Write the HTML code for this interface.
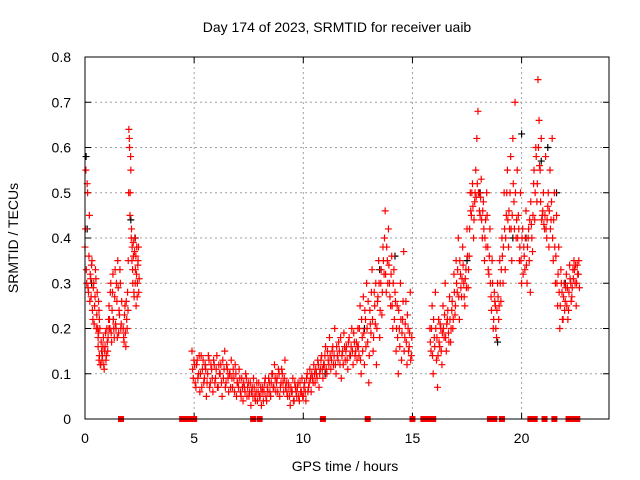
<!DOCTYPE html>
<html><head><meta charset="utf-8"><style>
html,body{margin:0;padding:0;background:#fff;}
svg{display:block;font-family:"Liberation Sans",sans-serif;}
</style></head><body>
<svg id="chart" width="640" height="480" viewBox="0 0 640 480" xmlns="http://www.w3.org/2000/svg">
<rect width="640" height="480" fill="#fff"/>
<text x="337" y="32" font-size="14" text-anchor="middle">Day 174 of 2023, SRMTID for receiver uaib</text>
<text x="18" y="238" font-size="14" text-anchor="middle" transform="rotate(-90 18 238)">SRMTID / TECUs</text>
<text x="345" y="471" font-size="14" text-anchor="middle">GPS time / hours</text>
<g id="grid"></g>
<g id="axes"></g>
<g id="black-series"></g>
<g id="red-series"></g>
<g id="gaps"></g>
<rect x="85" y="57" width="524" height="362" fill="none" stroke="#000" stroke-width="1"/>
</svg>
<script>
const xTicks=[0,5,10,15,20];
const yTicks=[0,0.1,0.2,0.3,0.4,0.5,0.6,0.7,0.8];
const yTickLabels=["0","0.1","0.2","0.3","0.4","0.5","0.6","0.7","0.8"];
// segments: start hour, step, values
const segStarts=[0,0.6,1.1,1.75,1.98,4.9,10,12.5,15.8,17];
const segSteps=[0.04,0.04,0.04,0.04,0.03,0.06,0.06,0.05,0.05,0.05];
const segVals=[
[0.38,0.55,0.3,0.5,0.28,0.45,0.32,0.27,0.35,0.22,0.3,0.25,0.33,0.2,0.28,0.18,0.24],
[0.16,0.13,0.2,0.12,0.15,0.14,0.18,0.11,0.16,0.13,0.2,0.15,0.22],
[0.25,0.2,0.3,0.17,0.28,0.22,0.18,0.33,0.2,0.26,0.35,0.19,0.23,0.3,0.21],
[0.2,0.17,0.25,0.16,0.22,0.28],
[0.35,0.64,0.6,0.5,0.55,0.42,0.38,0.3,0.36,0.27,0.4,0.33,0.25,0.38,0.3,0.35,0.28],
[0.15,0.09,0.12,0.07,0.13,0.1,0.06,0.14,0.11,0.08,0.12,0.05,0.1,0.13,0.08,0.11,0.06,0.12,0.09,0.14,0.07,0.1,0.12,0.05,0.09,0.15,0.08,0.11,0.06,0.1,0.13,0.07,0.09,0.12,0.05,0.08,0.11,0.06,0.09,0.04,0.07,0.1,0.05,0.08,0.06,0.03,0.07,0.09,0.05,0.06,0.04,0.08,0.05,0.03,0.07,0.06,0.09,0.04,0.06,0.08,0.05,0.1,0.07,0.12,0.06,0.09,0.11,0.05,0.08,0.1,0.06,0.13,0.08,0.05,0.07,0.03,0.06,0.09,0.04,0.07,0.05,0.08,0.04,0.06,0.09],
[0.05,0.08,0.04,0.1,0.07,0.11,0.06,0.09,0.12,0.08,0.1,0.13,0.07,0.11,0.14,0.09,0.12,0.16,0.1,0.13,0.18,0.11,0.15,0.12,0.2,0.1,0.14,0.17,0.12,0.09,0.15,0.19,0.13,0.16,0.11,0.18,0.14,0.2,0.12,0.17,0.15,0.13],
[0.2,0.14,0.25,0.1,0.18,0.27,0.12,0.22,0.3,0.17,0.08,0.24,0.19,0.33,0.15,0.28,0.21,0.12,0.26,0.35,0.18,0.3,0.23,0.38,0.32,0.46,0.28,0.35,0.42,0.3,0.25,0.36,0.2,0.33,0.28,0.15,0.25,0.1,0.2,0.3,0.13,0.22,0.37,0.18,0.26,0.12,0.2,0.16,0.28,0.14],
[0.2,0.15,0.25,0.1,0.18,0.28,0.13,0.07,0.22,0.16,0.2,0.12,0.25,0.18,0.3,0.15,0.22,0.19,0.27,0.17,0.24,0.2,0.32,0.23],
[0.35,0.28,0.4,0.22,0.32,0.27,0.38,0.3,0.25,0.33,0.42,0.29,0.36,0.5,0.45,0.52,0.4,0.48,0.55,0.62,0.68,0.5,0.45,0.53,0.4,0.48,0.35,0.44,0.5,0.38,0.32,0.42,0.27,0.35,0.2,0.28,0.25,0.18,0.3,0.22,0.35,0.26,0.4,0.3,0.5,0.33,0.45,0.55,0.38,0.42,0.58,0.35,0.62,0.48,0.7,0.4,0.55,0.45,0.35,0.5,0.3,0.42,0.38,0.33,0.46,0.3,0.4,0.35,0.28,0.43,0.37,0.52,0.44,0.6,0.48,0.75,0.66,0.55,0.62,0.45,0.5,0.42,0.58,0.4,0.47,0.38,0.55,0.44,0.62,0.35,0.5,0.3,0.45,0.25,0.38,0.2,0.33,0.28,0.22,0.3,0.26,0.32,0.29,0.24,0.34,0.3,0.27,0.33,0.35,0.3,0.25,0.34,0.32,0.29]
];
// second pass of samples, offset by half a step
const seg2Starts=[0.02,0.62,1.12,1.77,2.0,4.93,10.03,12.52,15.82,17.02];
const seg2Vals=[
[0.42,0.33,0.52,0.29,0.36,0.26,0.31,0.34,0.24,0.29,0.21,0.27,0.31,0.23,0.2,0.26,0.22],
[0.19,0.14,0.12,0.17,0.13,0.16,0.12,0.15,0.19,0.14,0.17,0.18,0.2],
[0.22,0.28,0.19,0.24,0.32,0.2,0.27,0.21,0.3,0.18,0.29,0.24,0.33,0.2,0.26],
[0.18,0.23,0.19,0.26,0.2,0.24],
[0.5,0.62,0.45,0.58,0.4,0.35,0.33,0.39,0.28,0.37,0.3,0.36,0.32,0.27,0.34,0.38,0.31],
[0.11,0.13,0.08,0.12,0.09,0.14,0.1,0.07,0.13,0.09,0.11,0.08,0.14,0.07,0.12,0.09,0.13,0.08,0.11,0.07,0.12,0.1,0.08,0.13,0.11,0.07,0.12,0.09,0.1,0.07,0.09,0.11,0.06,0.1,0.08,0.07,0.09,0.05,0.07,0.08,0.06,0.09,0.07,0.05,0.08,0.06,0.05,0.07,0.04,0.08,0.06,0.05,0.07,0.06,0.04,0.08,0.05,0.07,0.09,0.06,0.08,0.1,0.07,0.09,0.08,0.06,0.1,0.07,0.11,0.08,0.09,0.07,0.06,0.08,0.05,0.07,0.06,0.04,0.08,0.06,0.07,0.05,0.08,0.06,0.05],
[0.07,0.06,0.09,0.06,0.08,0.09,0.1,0.08,0.1,0.11,0.09,0.12,0.1,0.13,0.11,0.12,0.14,0.11,0.15,0.12,0.14,0.13,0.16,0.14,0.12,0.16,0.13,0.15,0.18,0.14,0.12,0.16,0.15,0.13,0.17,0.14,0.16,0.15,0.19,0.14,0.17,0.16],
[0.16,0.2,0.13,0.22,0.15,0.19,0.24,0.16,0.2,0.26,0.14,0.21,0.28,0.22,0.18,0.25,0.3,0.2,0.27,0.3,0.24,0.33,0.28,0.35,0.4,0.32,0.38,0.3,0.34,0.27,0.32,0.25,0.3,0.22,0.26,0.2,0.18,0.24,0.16,0.22,0.19,0.26,0.15,0.21,0.17,0.23,0.15,0.19,0.13,0.18],
[0.17,0.2,0.14,0.22,0.16,0.2,0.18,0.14,0.17,0.21,0.15,0.19,0.2,0.23,0.18,0.21,0.24,0.17,0.22,0.2,0.26,0.22,0.28,0.25],
[0.3,0.33,0.27,0.35,0.29,0.31,0.34,0.27,0.31,0.29,0.36,0.33,0.42,0.46,0.5,0.47,0.44,0.5,0.49,0.52,0.5,0.46,0.49,0.44,0.46,0.42,0.4,0.38,0.45,0.33,0.36,0.3,0.24,0.3,0.22,0.26,0.2,0.24,0.27,0.25,0.3,0.33,0.36,0.38,0.42,0.4,0.5,0.44,0.46,0.5,0.42,0.45,0.52,0.42,0.5,0.44,0.4,0.42,0.38,0.35,0.4,0.32,0.36,0.4,0.34,0.38,0.42,0.44,0.48,0.4,0.45,0.55,0.5,0.58,0.52,0.6,0.56,0.48,0.44,0.46,0.43,0.45,0.42,0.44,0.5,0.46,0.42,0.48,0.4,0.44,0.38,0.36,0.3,0.32,0.28,0.25,0.3,0.22,0.27,0.24,0.29,0.25,0.22,0.28,0.31,0.26,0.29,0.31,0.33,0.34,0.3,0.32,0.35]
];
const blackHours=[0.05,0.1,0.3,1.3,2.1,2.3,5.5,8.5,11,12.8,13.5,14.2,17.5,18.1,18.9,19.6,20,20.2,20.9,21.2,21.6,22];
const blackVals=[0.58,0.42,0.3,0.22,0.44,0.4,0.12,0.05,0.1,0.2,0.33,0.36,0.35,0.5,0.17,0.4,0.63,0.4,0.57,0.6,0.5,0.3];
const gapHours=[1.65,4.45,4.6,4.85,5.0,7.7,8.0,10.9,12.95,15.0,15.5,15.7,15.85,15.95,18.55,18.75,19.1,20.4,20.6,21.05,21.5,22.15,22.3,22.55];

const NS="http://www.w3.org/2000/svg";
function xs(h){return 85+h*21.83;}
function ys(v){return 419-v*452.5;}
function mk(tag,attrs,parent){const e=document.createElementNS(NS,tag);for(const k in attrs)e.setAttribute(k,attrs[k]);parent.appendChild(e);return e;}
const grid=document.getElementById('grid'),axes=document.getElementById('axes');
xTicks.forEach(t=>{
  const x=xs(t);
  if(t>0){const g=mk('line',{x1:x,x2:x,y1:57,y2:419,stroke:'#a0a0a0','stroke-dasharray':'2,3'},grid);
  
  }
  mk('line',{x1:x,x2:x,y1:419,y2:413,stroke:'#000'},axes);
  mk('line',{x1:x,x2:x,y1:57,y2:63,stroke:'#000'},axes);
  const l=mk('text',{x:x,y:443,'font-size':14,'text-anchor':'middle'},axes);l.textContent=t;
  
  
});
yTicks.forEach((t,i)=>{
  const y=ys(t);
  if(i>0&&i<yTicks.length-1){const g=mk('line',{x1:85,x2:609,y1:y,y2:y,stroke:'#a0a0a0','stroke-dasharray':'2,3'},grid);
  
  }
  mk('line',{x1:85,x2:91,y1:y,y2:y,stroke:'#000'},axes);
  mk('line',{x1:603,x2:609,y1:y,y2:y,stroke:'#000'},axes);
  const l=mk('text',{x:71,y:y+5,'font-size':14,'text-anchor':'end'},axes);l.textContent=yTickLabels[i];
  
  
});
function plus(h,v,color,parent){
  const x=xs(h),y=ys(v);
  const p=mk('path',{d:`M${x-3.5},${y}H${x+3.5}M${x},${y-3.5}V${y+3.5}`,stroke:color,'stroke-width':1.2,fill:'none'},parent);
  return p;
}
const bg=document.getElementById('black-series');
blackHours.forEach((h,i)=>{const p=plus(h,blackVals[i],'#000',bg);
  
  });
const rg=document.getElementById('red-series');
segVals.forEach((vals,s)=>{vals.forEach((v,i)=>{
  const p=plus(segStarts[s]+i*segSteps[s],v,'#ff0000',rg);
  
  
});});
seg2Vals.forEach((vals,s)=>{vals.forEach((v,i)=>{
  const p=plus(seg2Starts[s]+i*segSteps[s],v,'#ff0000',rg);
  
  
});});
const gg=document.getElementById('gaps');
gapHours.forEach(h=>{const r=mk('rect',{x:xs(h)-3,y:416,width:6,height:6,fill:'#ff0000'},gg);
  
  });
</script>
</body></html>
